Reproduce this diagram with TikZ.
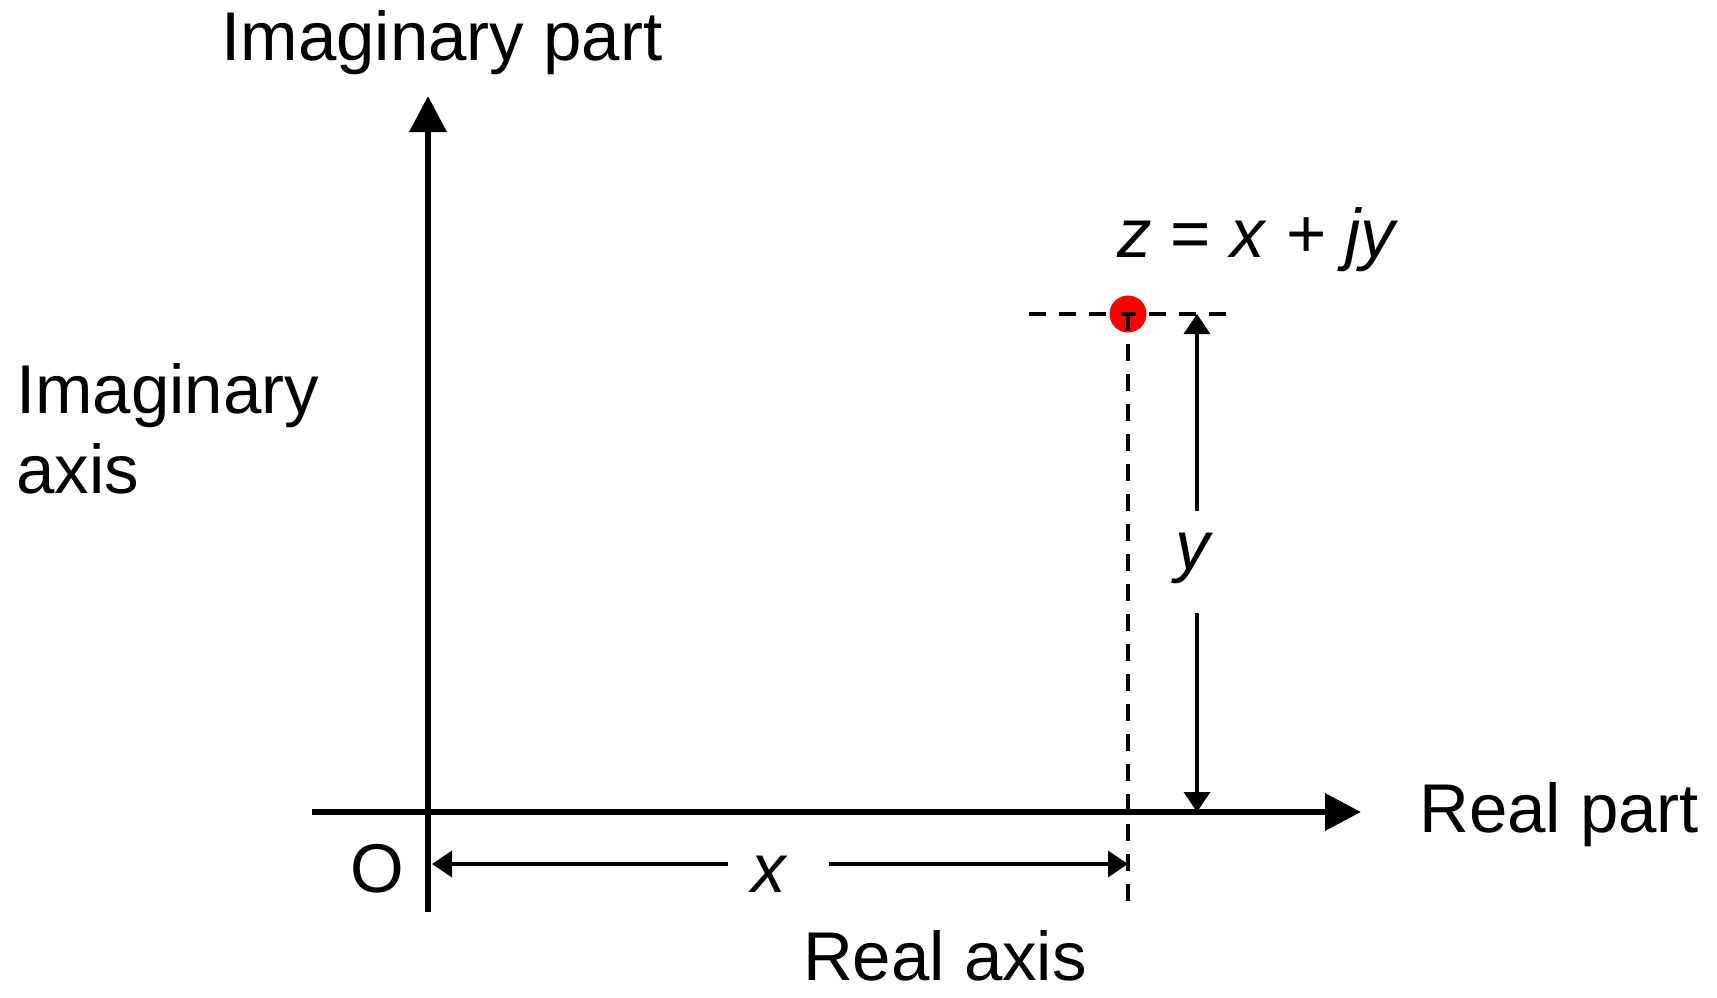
\documentclass[tikz,border=0pt]{standalone}
\usepackage{fontspec}
\setmainfont{Liberation Sans}
\usetikzlibrary{arrows.meta}
\begin{document}
\begin{tikzpicture}[x=1pt,y=-1pt,
  axis/.style={line width=6.5pt,-{Triangle[length=36pt,width=36pt]}},
  dimarrow/.style={line width=3.5pt,-{Triangle[length=20pt,width=26pt]}},
  guide/.style={line width=4pt,dash pattern=on 17pt off 13pt},
  lbl/.style={font=\fontsize{69}{80}\selectfont,inner sep=0pt,anchor=base}]
\useasboundingbox (0,0) rectangle (1717,997);
% coordinates
\coordinate (ybot) at (428,912);
\coordinate (ytop) at (428,96);
\coordinate (xleft) at (312,812);
\coordinate (xright) at (1361,812);
\coordinate (P) at (1128,314);
\coordinate (hl) at (1029,314);
\coordinate (hr) at (1229,314);
\coordinate (vb) at (1128,912);
\coordinate (xa1) at (728,864);
\coordinate (xa2) at (829,864);
\coordinate (xO) at (432,864);
\coordinate (xP) at (1128,864);
\coordinate (ya1) at (1197,511);
\coordinate (ya2) at (1197,613);
\coordinate (yP) at (1197,314);
\coordinate (yO) at (1197,812);
% axes
\draw[axis] (ybot) -- (ytop);
\draw[axis] (xleft) -- (xright);
% guides
\draw[guide] (hl) -- (hr);
\fill[red] (P) circle (18.5pt);
\draw[guide] (P) -- (vb);
\draw[line width=4pt] ([xshift=-7.5pt]P) -- ([xshift=7.5pt]P);
% dimension arrows
\draw[dimarrow] (xa1) -- (xO);
\draw[dimarrow] (xa2) -- (xP);
\draw[dimarrow] (ya1) -- (yP);
\draw[dimarrow] (ya2) -- (yO);
% labels
\node[lbl] (imp) at (442,60) {Imaginary part};
\node[lbl,anchor=base west] (ima1) at (16,413) {Imaginary};
\node[lbl,anchor=base west] (ima2) at (16,493) {axis};
\node[lbl,anchor=base west] (rep) at (1419,832) {Real part};
\node[lbl] (O) at (377,892) {O};
\node[lbl] (xl) at (770,892) {\textit{x}};
\node[lbl] (yl) at (1194,569) {\textit{y}};
\node[lbl] (rax) at (945,980) {Real axis};
\node[lbl,anchor=base west] (z) at (1117,257) {\textit{z} = \textit{x} + \textit{jy}};
\end{tikzpicture}
\end{document}
